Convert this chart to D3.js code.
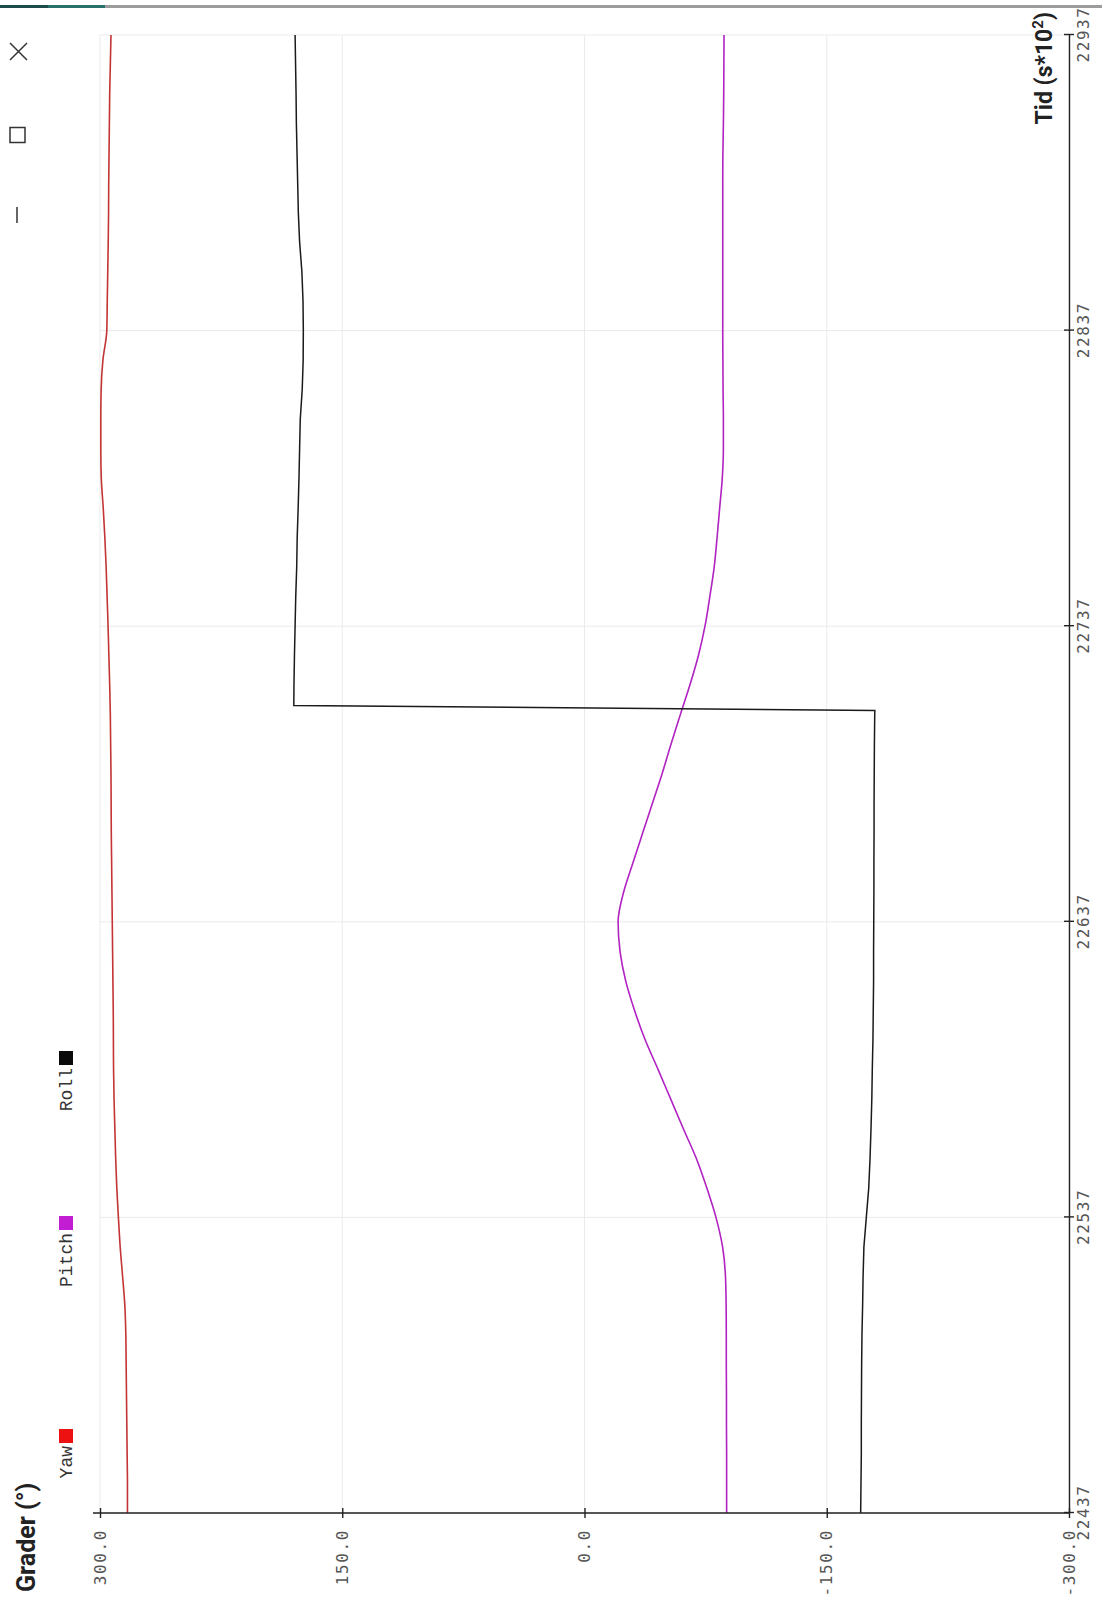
<!DOCTYPE html>
<html>
<head>
<meta charset="utf-8">
<script src="https://cdn.jsdelivr.net/npm/d3@7"></script>
<style>
  html, body { margin: 0; padding: 0; background: #fff; }
  svg { display: block; }
</style>
</head>
<body>
<svg id="chart" width="1102" height="1598"></svg>
<script>
// Sample times (s*10^2) shared by Yaw and Pitch
const tid = [22437, 22447, 22457, 22467, 22477, 22487, 22497, 22507, 22517, 22527,
             22537, 22547, 22557, 22567, 22577, 22587, 22597, 22607, 22617, 22627,
             22637, 22647, 22657, 22667, 22677, 22687, 22697, 22707, 22717, 22727,
             22737, 22747, 22757, 22767, 22777, 22787, 22797, 22807, 22817, 22827,
             22837, 22847, 22857, 22867, 22877, 22887, 22897, 22907, 22917, 22927,
             22937];

// Yaw (degrees)
const yaw = [283.0, 283.0, 283.2, 283.4, 283.6, 283.8, 284.0, 284.6, 286.0, 287.5,
             288.6, 289.6, 290.3, 290.8, 291.3, 291.6, 291.7, 291.8, 292.0, 292.2,
             292.4, 292.6, 292.8, 293.0, 293.1, 293.2, 293.4, 293.6, 294.0, 294.5,
             295.0, 295.6, 296.2, 297.0, 298.0, 299.2, 299.5, 299.5, 299.3, 298.2,
             295.8, 295.5, 295.2, 294.9, 294.7, 294.6, 294.4, 294.2, 294.0, 293.6,
             293.2];

// Pitch (degrees)
const pitch = [-88.0, -88.0, -88.0, -87.9, -87.9, -87.8, -87.8, -87.7, -87.3, -85.5,
               -81.4, -75.7, -69.2, -61.2, -53.4, -45.6, -37.6, -31.0, -25.5, -22.0,
               -20.8, -24.2, -30.0, -36.0, -42.0, -48.0, -53.5, -59.3, -65.2, -70.5,
               -74.6, -77.6, -80.3, -82.1, -83.7, -85.3, -86.0, -86.0, -85.8, -85.7,
               -85.6, -85.6, -85.6, -85.6, -85.6, -85.6, -85.7, -86.0, -86.2, -86.3,
               -86.4];

// Roll wraps from -180 to +180, so it carries its own sample times
const rollTid = [22437, 22447, 22457, 22467, 22477, 22487, 22497, 22507, 22517, 22527,
                 22537, 22547, 22557, 22567, 22577, 22587, 22597, 22607, 22617, 22627,
                 22637, 22647, 22657, 22667, 22677, 22687, 22697, 22707, 22708.5, 22710.2,
                 22717, 22727, 22737, 22747, 22757, 22767, 22777, 22787, 22797, 22807,
                 22817, 22827, 22837, 22847, 22857, 22867, 22877, 22887, 22897, 22907,
                 22917, 22927, 22937];
const roll = [-171.0, -171.2, -171.4, -171.4, -171.5, -171.6, -171.8, -172.2, -172.5, -173.0,
              -174.5, -176.0, -176.8, -177.4, -177.9, -178.2, -178.6, -178.8, -179.0, -179.0,
              -179.1, -179.2, -179.2, -179.3, -179.3, -179.4, -179.5, -179.7, -179.8, 180.0,
              179.9, 179.6, 179.2, 178.8, 178.2, 177.9, 177.3, 176.8, 176.4, 176.0,
              174.8, 174.2, 174.1, 174.3, 175.0, 176.4, 177.2, 177.6, 178.0, 178.4,
              178.6, 178.9, 179.2];

const tidTicks = [22437, 22537, 22637, 22737, 22837, 22937];
const graderTicks = [300, 150, 0, -150, -300];

const seriesNames = ["Yaw", "Pitch", "Roll"];
const legendColors = ["#ee1111", "#c21dd2", "#0a0a0a"];
const lineColors = ["#c43434", "#b122c2", "#1a1a1a"];

// ---- layout (chart drawn landscape, then turned a quarter to fit the portrait screen)
const W = 1598, H = 1102;
const svg = d3.select("#chart");

// window chrome strip along the top edge
svg.append("rect").attr("x", 0).attr("y", 5).attr("width", 48).attr("height", 3).attr("fill", "#1d4c4b");
svg.append("rect").attr("x", 48).attr("y", 5).attr("width", 57).attr("height", 3).attr("fill", "#27706b");
svg.append("rect").attr("x", 105).attr("y", 5).attr("width", 997).attr("height", 3).attr("fill", "#9c9c9c");

// window buttons (close, maximise, minimise), turned with the view
const btn = svg.append("g").attr("stroke", "#333").attr("stroke-width", 1.5).attr("fill", "none");
btn.append("path").attr("d", "M10,43L27,60M10,60L27,43");
btn.append("rect").attr("x", 10).attr("y", 127.5).attr("width", 15).attr("height", 15);
btn.append("path").attr("d", "M17,207V223");

const g = svg.append("g").attr("transform", `translate(0,${W}) rotate(-90)`);

const x = d3.scaleLinear().domain([22437, 22937]).range([85, 1563]);
const y = d3.scaleLinear().domain([-300, 300]).range([1069, 100]);

// grid
const grid = g.append("g").attr("stroke", "#ebebeb").attr("stroke-width", 1);
grid.selectAll("line.gx").data(tidTicks).join("line")
  .attr("x1", d => x(d)).attr("x2", d => x(d))
  .attr("y1", y(300)).attr("y2", y(-300));
grid.selectAll("line.gy").data(graderTicks).join("line")
  .attr("x1", x(22437)).attr("x2", x(22937))
  .attr("y1", d => y(d)).attr("y2", d => y(d));

// series
const lineYP = d3.line().curve(d3.curveMonotoneX).x((d, i) => x(tid[i])).y(d => y(d));
const lineRoll = d3.line().x((d, i) => x(rollTid[i])).y(d => y(d));

g.append("path").datum(yaw).attr("d", lineYP)
  .attr("fill", "none").attr("stroke", lineColors[0]).attr("stroke-width", 1.6);
g.append("path").datum(pitch).attr("d", lineYP)
  .attr("fill", "none").attr("stroke", lineColors[1]).attr("stroke-width", 1.6);
g.append("path").datum(roll).attr("d", lineRoll)
  .attr("fill", "none").attr("stroke", lineColors[2]).attr("stroke-width", 1.5);

// axes
const tickFont = "'DejaVu Sans Mono', monospace";

const xAxis = d3.axisBottom(x).tickValues(tidTicks).tickSizeInner(5).tickSizeOuter(0)
  .tickPadding(4).tickFormat(d3.format("d"));
const gx = g.append("g").attr("transform", `translate(0,${y(-300)})`).call(xAxis);
gx.select(".domain").attr("stroke", "#222").attr("stroke-width", 1.4);
gx.selectAll(".tick line").attr("y1", -5).attr("y2", 5).attr("stroke", "#222").attr("stroke-width", 1.4);
gx.selectAll(".tick text").attr("font-family", tickFont).attr("font-size", 16)
  .attr("letter-spacing", "1.6px").attr("fill", "#555");

const yAxis = d3.axisLeft(y).tickValues(graderTicks).tickSizeInner(5).tickSizeOuter(0)
  .tickPadding(11).tickFormat(d => d.toFixed(1));
const gy = g.append("g").attr("transform", `translate(${x(22437)},0)`).call(yAxis);
gy.select(".domain").attr("stroke", "#222").attr("stroke-width", 1.4)
  .attr("d", `M0,${y(300) - 7}V${y(-300)}`);
gy.selectAll(".tick line").attr("x1", 5).attr("x2", -5).attr("stroke", "#222").attr("stroke-width", 1.4);
gy.selectAll(".tick text").attr("font-family", tickFont).attr("font-size", 16)
  .attr("letter-spacing", "1.6px").attr("fill", "#555");

// titles
g.append("text").attr("x", 6).attr("y", 35)
  .attr("font-family", "Roboto, 'Noto Sans', sans-serif").attr("font-weight", "bold")
  .attr("font-size", 25).attr("fill", "#222").text("Grader (°)");

const tTitle = g.append("text").attr("x", 1586).attr("y", 1052).attr("text-anchor", "end")
  .attr("font-family", "Roboto, 'Noto Sans', sans-serif").attr("font-weight", "bold")
  .attr("font-size", 23).attr("fill", "#222");
tTitle.append("tspan").text("Tid (s*10");
tTitle.append("tspan").attr("font-size", 15).attr("dy", -9).text("2");
tTitle.append("tspan").attr("dy", 9).text(")");

// legend
const legendSquareX = [155, 368, 533];
const legend = g.append("g");
seriesNames.forEach((name, i) => {
  legend.append("rect").attr("x", legendSquareX[i]).attr("y", 59)
    .attr("width", 14).attr("height", 14).attr("fill", legendColors[i]);
  legend.append("text").attr("x", legendSquareX[i] - 3).attr("y", 72)
    .attr("text-anchor", "end").attr("font-family", "'Liberation Mono', monospace")
    .attr("font-size", 18).attr("fill", "#333").text(name);
});
</script>
</body>
</html>
